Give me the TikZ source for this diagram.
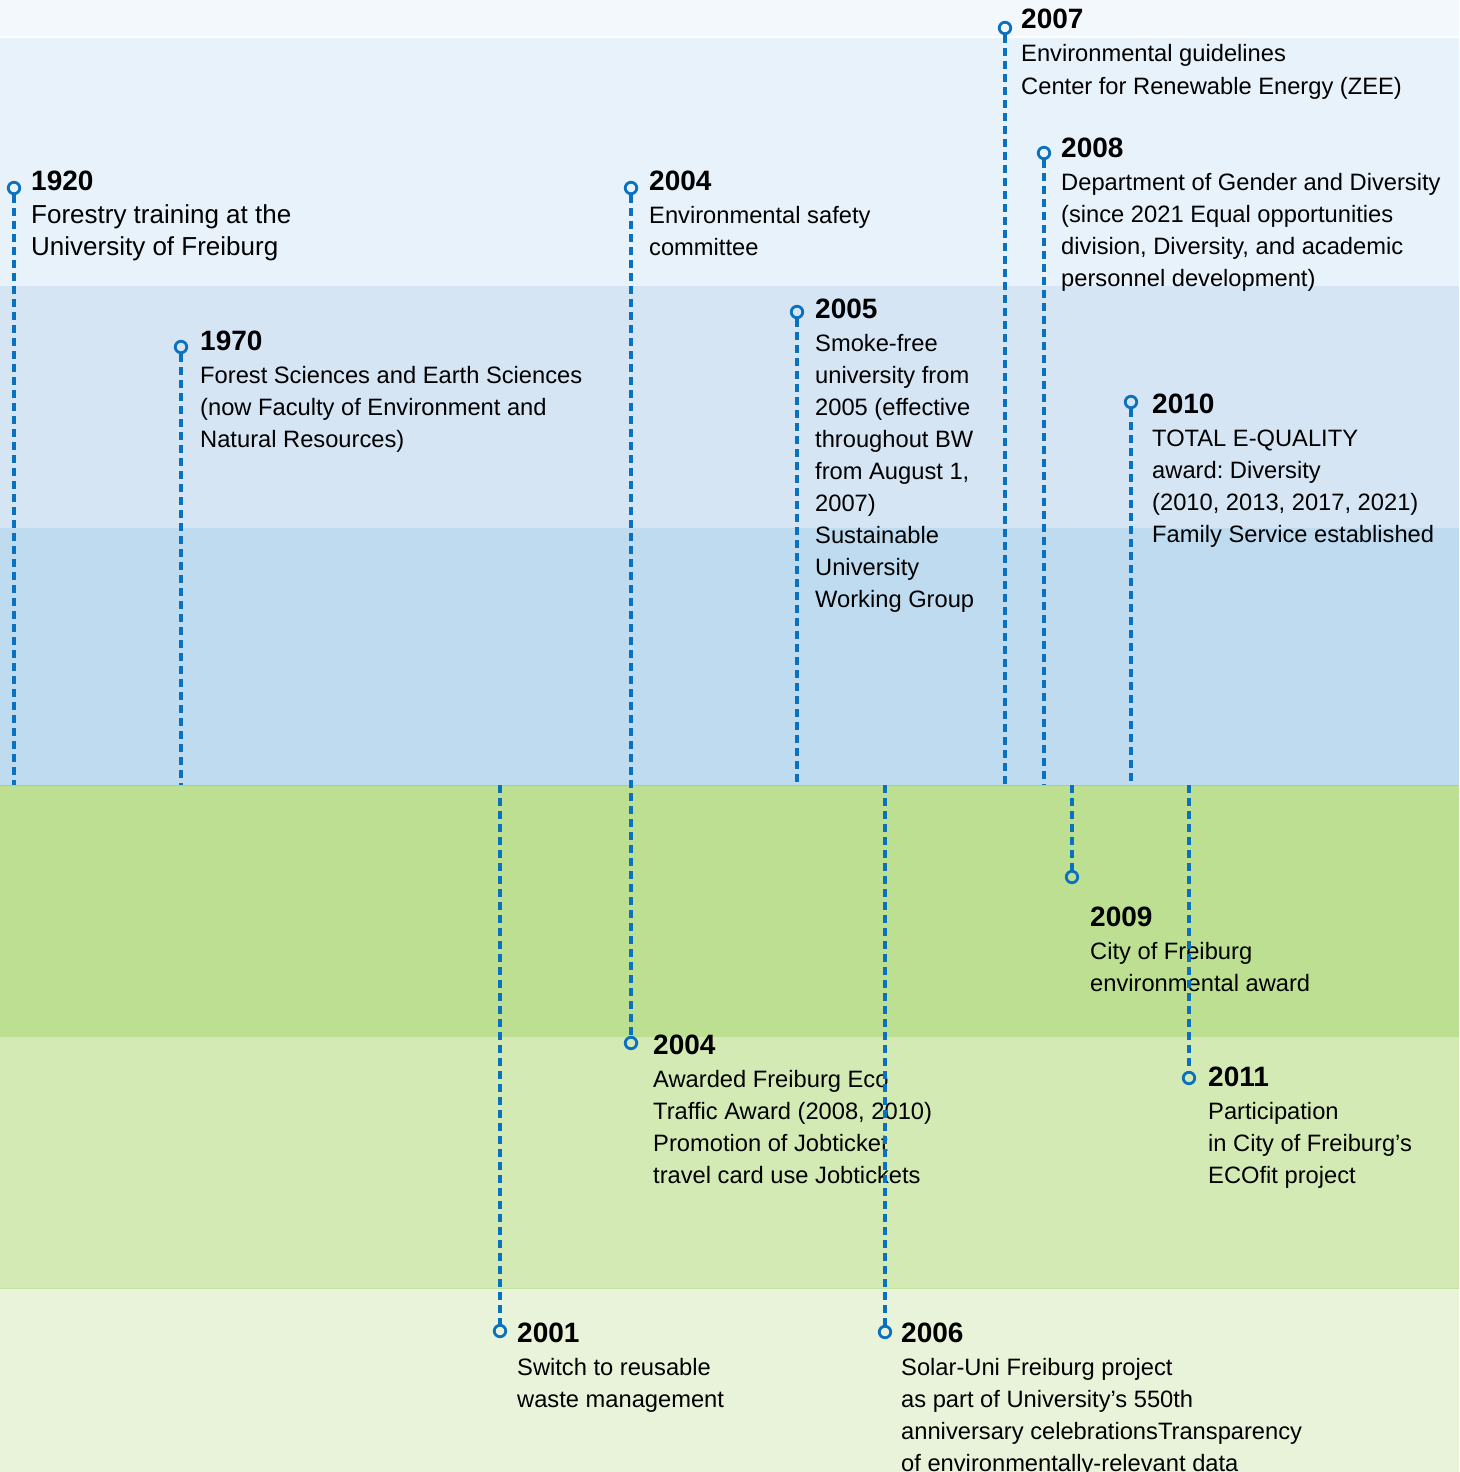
\documentclass[tikz,border=0pt]{standalone}
\usepackage{fontspec}
\setmainfont{Liberation Sans}
\frenchspacing
\definecolor{bA}{HTML}{F3F8FC}
\definecolor{bB}{HTML}{E8F2FA}
\definecolor{bC}{HTML}{D5E5F4}
\definecolor{bD}{HTML}{BFDBF0}
\definecolor{gA}{HTML}{BCDF92}
\definecolor{gB}{HTML}{D4EAB5}
\definecolor{gC}{HTML}{E9F3DA}
\definecolor{lnc}{HTML}{0A70C0}
\definecolor{ink}{HTML}{000000}
\tikzset{
  yr/.style={anchor=base west, inner sep=0pt, font=\fontsize{28}{32}\selectfont\bfseries, text=ink},
  bd/.style={anchor=base west, inner sep=0pt, text=ink},
  pin/.style={circle, draw=lnc, line width=2.8pt, minimum size=11.5pt, inner sep=0pt},
  stem/.style={draw=lnc, line width=3.1pt, dash pattern=on 8pt off 5pt},
}
% #1 font size, #2 name, #3 x, #4 year baseline, #5 year, #6 lines
\newcommand\evt[6][23.7]{%
  \node[yr] (#2) at (#3,#4) {#5};
  \foreach \ln [count=\i] in {#6} {
    \node[bd, font=\fontsize{#1}{32}\selectfont] (#2-\i) at (#3,#4+1+32*\i) {\ln};
  }
}
\begin{document}
\begin{tikzpicture}[x=1pt,y=-1pt]
\useasboundingbox (0,0) rectangle (1459,1472);
% bands
\fill[bA] (0,0) rectangle (1459,37);
\fill[bB] (0,37) rectangle (1459,286);
\fill[bC] (0,286) rectangle (1459,528);
\fill[bD] (0,528) rectangle (1459,785);
\fill[gA] (0,785) rectangle (1459,1037);
\fill[gB] (0,1037) rectangle (1459,1288);
\fill[gC] (0,1288) rectangle (1459,1472);
\draw[white, line width=1.2pt] (0,37) -- (1459,37);
\draw[bD!80!black!60!bD, line width=1pt] (0,785) -- (1459,785);
\draw[gA!90!white, line width=1pt] (0,1288) -- (1459,1288);

% texts
\evt[26]{t1920}{31}{190}{1920}{{Forestry training at the},{University of Freiburg}}
\evt{t1970}{200}{350}{1970}{{Forest Sciences and Earth Sciences},{(now Faculty of Environment and},{Natural Resources)}}
\evt{t2004a}{649}{190}{2004}{{Environmental safety},{committee}}
\evt{t2005}{815}{318}{2005}{{Smoke-free},{university from},{2005 (effective},{throughout BW},{from August 1,},{2007)},{Sustainable},{University},{Working Group}}
\evt{t2007}{1021}{29}{2007}{{Environmental guidelines},{Center for Renewable Energy (ZEE)}}
\evt{t2008}{1061}{157}{2008}{{Department of Gender and Diversity},{(since 2021 Equal opportunities},{division, Diversity, and academic},{personnel development)}}
\evt{t2010}{1152}{413}{2010}{{TOTAL E-QUALITY},{award: Diversity},{(2010, 2013, 2017, 2021)},{Family Service established}}
\evt{t2009}{1090}{926}{2009}{{City of Freiburg},{environmental award}}
\evt{t2004b}{653}{1054}{2004}{{Awarded Freiburg Eco},{Traffic Award (2008, 2010)},{Promotion of Jobticket},{travel card use Jobtickets}}
\evt{t2011}{1208}{1086}{2011}{{Participation},{in City of Freiburg’s},{ECOfit project}}
\evt{t2001}{517}{1342}{2001}{{Switch to reusable},{waste management}}
\evt{t2006}{901}{1342}{2006}{{Solar-Uni Freiburg project},{as part of University’s 550th},{anniversary celebrationsTransparency},{of environmentally-relevant data}}

% pins
\node[pin] (c1920) at (14,188) {};
\node[pin] (c1970) at (181,347) {};
\node[pin] (c2004a) at (631,188) {};
\node[pin] (c2005) at (797,312) {};
\node[pin] (c2007) at (1005,28) {};
\node[pin] (c2008) at (1044,153) {};
\node[pin] (c2010) at (1131,402) {};
\node[pin] (c2009) at (1072,877) {};
\node[pin] (c2004b) at (631,1043) {};
\node[pin] (c2011) at (1189,1078) {};
\node[pin] (c2001) at (500,1331) {};
\node[pin] (c2006) at (885,1332) {};

% axis coordinates
\coordinate (e1920) at (14,785);
\coordinate (e1970) at (181,785);
\coordinate (e2005) at (797,785);
\coordinate (e2007) at (1005,785);
\coordinate (e2008) at (1044,785);
\coordinate (e2010) at (1131,785);
\coordinate (e2009) at (1072,785);
\coordinate (e2011) at (1189,785);
\coordinate (e2001) at (500,785);
\coordinate (e2006) at (885,785);

% stems
\draw[stem] (c1920) -- (e1920);
\draw[stem] (c1970) -- (e1970);
\draw[stem] (c2004a) -- (c2004b);
\draw[stem] (c2005) -- (e2005);
\draw[stem] (c2007) -- (e2007);
\draw[stem] (c2008) -- (e2008);
\draw[stem] (c2010) -- (e2010);
\draw[stem] (e2009) -- (c2009);
\draw[stem] (e2011) -- (c2011);
\draw[stem] (e2001) -- (c2001);
\draw[stem] (e2006) -- (c2006);
\end{tikzpicture}
\end{document}
